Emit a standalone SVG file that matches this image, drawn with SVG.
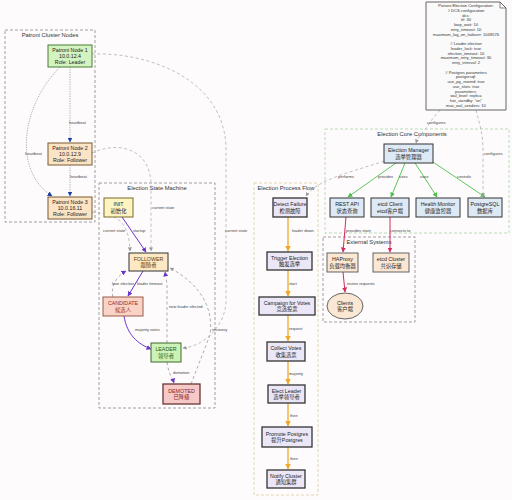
<svg xmlns="http://www.w3.org/2000/svg" width="512" height="500" viewBox="0 0 512 500">
<style>
text{font-family:"Liberation Sans",Arial,"Noto Sans CJK SC",sans-serif;fill:#222}
.n{font-size:5.3px;text-anchor:middle}
.ct{font-size:5.8px;text-anchor:middle;fill:#333}
.el{font-size:4px;fill:#444}
.note{font-size:4.1px;text-anchor:middle;fill:#333}
.cl{fill:none;stroke:#888;stroke-width:0.8;stroke-dasharray:3 2}
.hb{fill:none;stroke:#999;stroke-width:0.8;stroke-dasharray:1.2 1.2}
.cs{fill:none;stroke:#b0b0b0;stroke-width:0.8;stroke-dasharray:3 2.5}
.sm{fill:none;stroke:#6a35c8;stroke-width:1}
.smd{fill:none;stroke:#999;stroke-width:0.8;stroke-dasharray:3 2.5}
.pf{fill:none;stroke:#f0a828;stroke-width:1.3}
.cc{fill:none;stroke:#5cc85c;stroke-width:1}
.ex{fill:none;stroke:#d42a5c;stroke-width:1}
.pn{stroke-width:1}
.proc{fill:#ebe7f7;stroke:#333;stroke-width:1.3}
.core{fill:#dde9f5;stroke:#333;stroke-width:1}
.ext{fill:#fbe8d4;stroke:#555;stroke-width:0.9}
</style>
<defs>
<marker id="ab" viewBox="0 0 10 10" refX="9" refY="5" markerWidth="5" markerHeight="5" markerUnits="userSpaceOnUse" orient="auto"><path d="M0,0L10,5L0,10z" fill="#1f3fa8"/></marker>
<marker id="ag" viewBox="0 0 10 10" refX="9" refY="5" markerWidth="4" markerHeight="4" markerUnits="userSpaceOnUse" orient="auto"><path d="M0,0L10,5L0,10z" fill="#999"/></marker>
<marker id="ap" viewBox="0 0 10 10" refX="9" refY="5" markerWidth="5" markerHeight="5" markerUnits="userSpaceOnUse" orient="auto"><path d="M0,0L10,5L0,10z" fill="#6a35c8"/></marker>
<marker id="ao" viewBox="0 0 10 10" refX="9" refY="5" markerWidth="5.5" markerHeight="5.5" markerUnits="userSpaceOnUse" orient="auto"><path d="M0,0L10,5L0,10z" fill="#f0a828"/></marker>
<marker id="agr" viewBox="0 0 10 10" refX="9" refY="5" markerWidth="5" markerHeight="5" markerUnits="userSpaceOnUse" orient="auto"><path d="M0,0L10,5L0,10z" fill="#4cc04c"/></marker>
<marker id="ar" viewBox="0 0 10 10" refX="9" refY="5" markerWidth="5" markerHeight="5" markerUnits="userSpaceOnUse" orient="auto"><path d="M0,0L10,5L0,10z" fill="#d42a5c"/></marker>
</defs>
<rect width="512" height="500" fill="#fdfbfb"/>

<g id="clusters">
<g id="cluster-patroni"><rect class="cl" x="5" y="30" width="90" height="192" stroke="#777"/><text class="ct" x="50" y="37">Patroni Cluster Nodes</text></g>
<g id="cluster-state"><rect class="cl" x="99" y="183" width="116" height="225"/><text class="ct" x="157" y="190">Election State Machine</text></g>
<g id="cluster-process"><rect class="cl" x="254" y="183" width="64" height="312" style="stroke:#d9cfa0"/><text class="ct" x="286" y="190">Election Process Flow</text></g>
<g id="cluster-core"><rect class="cl" x="325" y="129" width="184" height="104" style="stroke:#a8d4a8"/><text class="ct" x="412" y="136">Election Core Components</text></g>
<g id="cluster-external"><rect class="cl" x="323" y="237" width="92" height="85"/><text class="ct" x="369" y="244">External Systems</text></g>
</g>

<g id="connectors">
<!-- heartbeat -->
<path class="hb" d="M70,67 L70,142" marker-end="url(#ab)"/>
<text class="el" x="69" y="123.5">heartbeat</text>
<path class="hb" d="M70,165 L70,196" marker-end="url(#ab)"/>
<text class="el" x="70" y="177.5">heartbeat</text>
<path class="hb" d="M60,67 C22,105 12,170 52,196" marker-end="url(#ab)"/>
<text class="el" x="25" y="154.5">heartbeat</text>
<!-- current state -->
<path class="cs" d="M92,54 C150,52 226,80 226,150 L226,300 C226,325 205,346 183,348" marker-end="url(#ag)"/>
<text class="el" x="225" y="231.5">current state</text>
<path class="cs" d="M92,153 C120,140 151,150 151,185 L151,251" marker-end="url(#ag)"/>
<text class="el" x="152" y="208.5">current state</text>
<path class="cs" d="M92,212 C118,214 129,222 130,251" marker-end="url(#ag)"/>
<text class="el" x="103" y="231.5">current state</text>
<!-- state machine -->
<path class="sm" d="M122,217 L146,252" marker-end="url(#ap)"/>
<text class="el" x="133" y="231.5">startup</text>
<path class="sm" d="M143,271 L128,296" marker-end="url(#ap)"/>
<text class="el" x="137" y="284.5">leader timeout</text>
<path class="smd" d="M113,297 C110,286 117,276 126,271" marker-end="url(#ap)"/>
<text class="el" x="112" y="284.5">lose election</text>
<path class="sm" d="M124,316 C127,335 138,344 151,349" marker-end="url(#ap)"/>
<text class="el" x="135" y="330.5">majority votes</text>
<path class="smd" d="M167,343 L167,284 L165,272" marker-end="url(#ap)"/>
<text class="el" x="169" y="307.5">new leader elected</text>
<path class="smd" d="M167,362 C168,372 172,377 174,383" marker-end="url(#ap)"/>
<text class="el" x="173" y="374">demotion</text>
<path class="smd" d="M191,384 L210,335 C214,308 200,284 170,268" marker-end="url(#ag)"/>
<text class="el" x="212" y="330.5">recovery</text>
<!-- process flow -->
<path class="pf" d="M288,217 L288,251" marker-end="url(#ao)"/>
<text class="el" x="292" y="231.5">leader down</text>
<path class="pf" d="M288,270 L288,296" marker-end="url(#ao)"/>
<text class="el" x="289" y="284.5">start</text>
<path class="pf" d="M288,315 L288,341" marker-end="url(#ao)"/>
<text class="el" x="289" y="330">request</text>
<path class="pf" d="M288,361 L288,384" marker-end="url(#ao)"/>
<text class="el" x="289" y="374.5">majority</text>
<path class="pf" d="M288,403 L288,426" marker-end="url(#ao)"/>
<text class="el" x="290" y="417">then</text>
<path class="pf" d="M288,447 L288,469" marker-end="url(#ao)"/>
<text class="el" x="290" y="459.5">then</text>
<!-- core -->
<path class="cs" d="M384,161 C360,170 318,178 306,196" marker-end="url(#ag)"/>
<text class="el" x="338" y="177.5">performs</text>
<path class="cc" d="M396,163 L348,197" marker-end="url(#agr)"/>
<text class="el" x="378" y="177.5">provides</text>
<path class="cc" d="M405,163 L391,197" marker-end="url(#agr)"/>
<text class="el" x="399" y="177.5">uses</text>
<path class="cc" d="M415,163 L437,197" marker-end="url(#agr)"/>
<text class="el" x="420" y="177.5">uses</text>
<path class="cc" d="M430,160 L485,197" marker-end="url(#agr)"/>
<text class="el" x="457" y="177.5">controls</text>
<path class="cs" d="M440,110 L430,122 C426,130 418,136 416,143" marker-end="url(#ag)"/>
<text class="el" x="427" y="123.5">configures</text>
<path class="cs" d="M476,110 C480,125 483,135 483,150 L483,197" marker-end="url(#ag)"/>
<text class="el" x="484" y="154.5">configures</text>
<!-- external -->
<path class="ex" d="M346,217 L343,252" marker-end="url(#ar)"/>
<text class="el" x="346" y="231.5">provides state</text>
<path class="ex" d="M390,217 L390,252" marker-end="url(#ar)"/>
<text class="el" x="390" y="231.5">connects to</text>
<path class="ex" d="M343,272 L345,292" marker-end="url(#ar)"/>
<text class="el" x="347" y="284.5">routes requests</text>
</g>

<g id="node-p1"><rect x="48" y="45" width="44" height="22" fill="#d3f3c0" stroke="#4d7d35" class="pn"/><text class="n" x="70" y="52">Patroni Node 1</text><text class="n" x="70" y="58">10.0.12.4</text><text class="n" x="70" y="64">Role: Leader</text></g>
<g id="node-p2"><rect x="48" y="143" width="44" height="22" fill="#fbe4c6" stroke="#7a5a30" class="pn"/><text class="n" x="70" y="150">Patroni Node 2</text><text class="n" x="70" y="156">10.0.12.9</text><text class="n" x="70" y="162">Role: Follower</text></g>
<g id="node-p3"><rect x="48" y="197" width="44" height="22" fill="#fbe4c6" stroke="#7a5a30" class="pn"/><text class="n" x="70" y="204">Patroni Node 3</text><text class="n" x="70" y="210">10.0.16.11</text><text class="n" x="70" y="216">Role: Follower</text></g>

<g id="node-init"><rect x="104" y="198" width="29" height="19" fill="#fdf4c2" stroke="#7a6a28" stroke-width="1"/><text class="n" x="118.5" y="206">INIT</text><text class="n" x="118.5" y="212.5">初始化</text></g>
<g id="node-follower"><rect x="129" y="253" width="39" height="18" fill="#fde9c4" stroke="#333" stroke-width="1"/><text class="n" x="148.5" y="260.5" style="fill:#5a3a10">FOLLOWER</text><text class="n" x="148.5" y="267" style="fill:#5a3a10">跟随者</text></g>
<g id="node-candidate"><rect x="103" y="297" width="40" height="19" fill="#f8d3c6" stroke="#9a5a4a" stroke-width="1"/><text class="n" x="123" y="305" style="fill:#9a2a1a">CANDIDATE</text><text class="n" x="123" y="311.5" style="fill:#9a2a1a">候选人</text></g>
<g id="node-leader"><rect x="151" y="343" width="30" height="19" fill="#cdf2b8" stroke="#3d6a2a" stroke-width="1"/><text class="n" x="166" y="351" style="fill:#1f5a12">LEADER</text><text class="n" x="166" y="357.5" style="fill:#1f5a12">领导者</text></g>
<g id="node-demoted"><rect x="163" y="384" width="37" height="20" fill="#f6c9c9" stroke="#6a3535" stroke-width="1.3"/><text class="n" x="181.5" y="392.5" style="fill:#8a1a1a">DEMOTED</text><text class="n" x="181.5" y="399" style="fill:#8a1a1a">已降级</text></g>

<g id="node-detect"><rect class="proc" x="273" y="198" width="34" height="19"/><text class="n" x="290" y="206">Detect Failure</text><text class="n" x="290" y="212.5">检测故障</text></g>
<g id="node-trigger"><rect class="proc" x="267" y="252" width="45" height="18"/><text class="n" x="289.5" y="259.5">Trigger Election</text><text class="n" x="289.5" y="266">触发选举</text></g>
<g id="node-campaign"><rect class="proc" x="259" y="297" width="56" height="18"/><text class="n" x="287" y="304.5">Campaign for Votes</text><text class="n" x="287" y="311">竞选投票</text></g>
<g id="node-collect"><rect class="proc" x="267" y="342" width="38" height="19"/><text class="n" x="286" y="350">Collect Votes</text><text class="n" x="286" y="356.5">收集选票</text></g>
<g id="node-elect"><rect class="proc" x="268" y="385" width="37" height="18"/><text class="n" x="286.5" y="392.5">Elect Leader</text><text class="n" x="286.5" y="399">选举领导者</text></g>
<g id="node-promote"><rect class="proc" x="262" y="427" width="50" height="20"/><text class="n" x="287" y="435.5">Promote Postgres</text><text class="n" x="287" y="442">提升Postgres</text></g>
<g id="node-notify"><rect class="proc" x="267" y="470" width="38" height="18"/><text class="n" x="286" y="477.5">Notify Cluster</text><text class="n" x="286" y="484">通知集群</text></g>

<g id="node-manager"><rect class="core" x="384" y="144" width="49" height="19" stroke-width="1.3"/><text class="n" x="408.5" y="152">Election Manager</text><text class="n" x="408.5" y="158.5">选举管理器</text></g>
<g id="node-restapi"><rect class="core" x="330" y="198" width="34" height="19"/><text class="n" x="347" y="206">REST API</text><text class="n" x="347" y="212.5">状态查询</text></g>
<g id="node-etcdclient"><rect class="core" x="371" y="198" width="38" height="19"/><text class="n" x="390" y="206">etcd Client</text><text class="n" x="390" y="212.5">etcd客户端</text></g>
<g id="node-health"><rect class="core" x="416" y="198" width="44" height="19"/><text class="n" x="438" y="206">Health Monitor</text><text class="n" x="438" y="212.5">健康监控器</text></g>
<g id="node-postgres"><rect class="core" x="468" y="198" width="34" height="19"/><text class="n" x="485" y="206">PostgreSQL</text><text class="n" x="485" y="212.5">数据库</text></g>

<g id="node-haproxy"><rect class="ext" x="327" y="253" width="31" height="19"/><text class="n" x="342.5" y="261">HAProxy</text><text class="n" x="342.5" y="267.5">负载均衡器</text></g>
<g id="node-etcdcluster"><rect class="ext" x="373" y="253" width="36" height="19"/><text class="n" x="391" y="261">etcd Cluster</text><text class="n" x="391" y="267.5">共识存储</text></g>
<g id="node-clients"><ellipse class="ext" cx="345" cy="306" rx="18" ry="13" stroke="#333"/><text class="n" x="345" y="304.5">Clients</text><text class="n" x="345" y="311">客户端</text></g>

<g id="node-config">
<path d="M426,2 L500,2 L506,8 L506,110 L426,110 Z" fill="#fafafa" stroke="#555" stroke-width="0.9"/>
<path d="M500,2 L500,8 L506,8" fill="none" stroke="#555" stroke-width="0.7"/>
<text class="note" x="466"><tspan x="466" y="7">Patroni Election Configuration:</tspan><tspan x="466" y="11.75"># DCS configuration</tspan><tspan x="466" y="16.5">dcs:</tspan><tspan x="466" y="21.25">ttl: 30</tspan><tspan x="466" y="26">loop_wait: 10</tspan><tspan x="466" y="30.75">retry_timeout: 10</tspan><tspan x="466" y="35.5">maximum_lag_on_failover: 1048576</tspan><tspan x="466" y="45"># Leader election</tspan><tspan x="466" y="49.75">leader_lock: true</tspan><tspan x="466" y="54.5">election_timeout: 10</tspan><tspan x="466" y="59.25">maximum_retry_timeout: 30</tspan><tspan x="466" y="64">retry_interval: 2</tspan><tspan x="466" y="73.5"># Postgres parameters</tspan><tspan x="466" y="78.25">postgresql:</tspan><tspan x="466" y="83">use_pg_rewind: true</tspan><tspan x="466" y="87.75">use_slots: true</tspan><tspan x="466" y="92.5">parameters:</tspan><tspan x="466" y="97.25">wal_level: replica</tspan><tspan x="466" y="102">hot_standby: "on"</tspan><tspan x="466" y="106.75">max_wal_senders: 10</tspan></text>
</g>
</svg>
